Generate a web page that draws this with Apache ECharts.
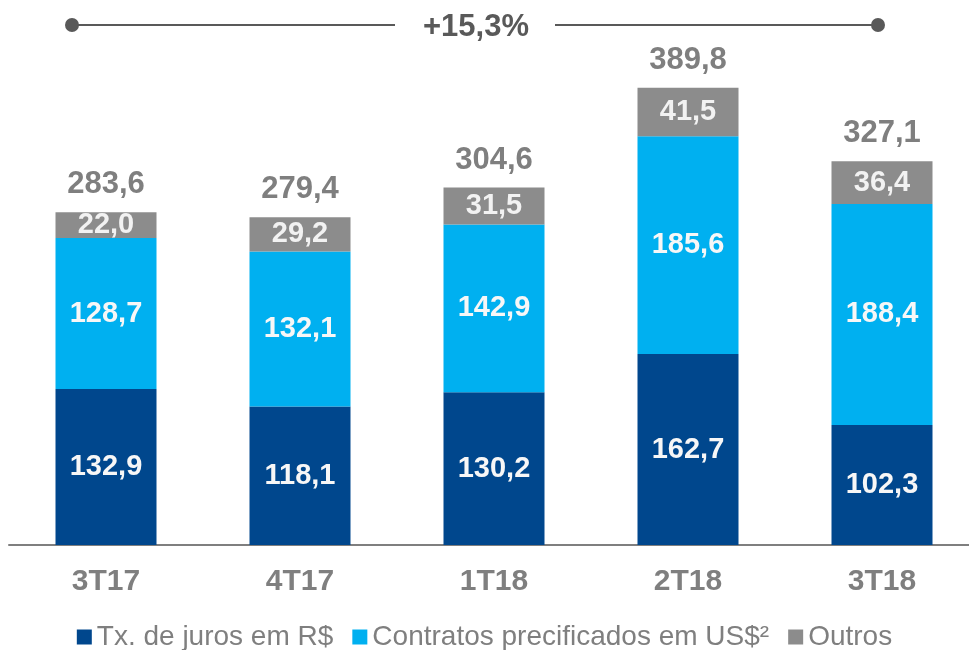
<!DOCTYPE html>
<html>
<head>
<meta charset="utf-8">
<script src="https://cdn.jsdelivr.net/npm/echarts@6/dist/echarts.min.js"></script>
<style>
  html, body { margin: 0; padding: 0; background: #fff; }
  #chart { width: 969px; height: 650px; }
</style>
</head>
<body>
<div id="chart"></div>
<script>
const categories = ['3T17', '4T17', '1T18', '2T18', '3T18']
const jurosRS = [132.9, 118.1, 130.2, 162.7, 102.3]
const contratosUS = [128.7, 132.1, 142.9, 185.6, 188.4]
const outros = [22.0, 29.2, 31.5, 41.5, 36.4]
const totals = [283.6, 279.4, 304.6, 389.8, 327.1]
const growthLabel = '+15,3%'

const fmt = v => v.toFixed(1).replace('.', ',')
const font = 'Liberation Sans, Arial, sans-serif'

const chart = echarts.init(document.getElementById('chart'))
const insideLabel = (color) => ({
  show: true,
  position: 'inside',
  color: color,
  fontFamily: font,
  fontWeight: 'bold',
  fontSize: 29,
  formatter: p => fmt(p.value)
})

const option = {
  animation: false,
  grid: { left: 9, width: 970, top: 17, bottom: 105, outerBoundsMode: 'none' },
  legend: {
    data: ['Tx. de juros em R$', 'Contratos precificados em US$²', 'Outros'],
    top: 623,
    left: 'center',
    padding: 0,
    icon: 'rect',
    itemWidth: 15,
    itemHeight: 15,
    itemGap: 19,
    textStyle: { color: '#7f7f7f', fontSize: 28, fontFamily: font }
  },
  xAxis: {
    type: 'category',
    data: categories,
    axisTick: { show: false },
    axisLine: { lineStyle: { color: '#7f7f7f', width: 2 } },
    axisLabel: { color: '#7f7f7f', fontSize: 30, fontWeight: 'bold', fontFamily: font, margin: 22 }
  },
  yAxis: { type: 'value', min: 0, max: 450, show: false },
  series: [
    {
      name: 'Tx. de juros em R$', type: 'bar', stack: 'a', data: jurosRS,
      barWidth: 101, itemStyle: { color: '#00478d' }, label: insideLabel('#f7f7f7')
    },
    {
      name: 'Contratos precificados em US$²', type: 'bar', stack: 'a', data: contratosUS,
      itemStyle: { color: '#00b0f0' }, label: insideLabel('#f7f7f7')
    },
    {
      name: 'Outros', type: 'bar', stack: 'a', data: outros,
      itemStyle: { color: '#8c8c8c' }, label: insideLabel('#f2f2f2')
    },
    {
      name: 'Total', type: 'bar', stack: 'a', data: totals.map(() => 0),
      itemStyle: { color: 'transparent' },
      label: {
        show: true, position: 'top', distance: 12,
        color: '#7f7f7f', fontFamily: font, fontWeight: 'bold', fontSize: 31,
        formatter: p => fmt(totals[p.dataIndex])
      }
    }
  ],
  graphic: [
    { type: 'line', shape: { x1: 72, y1: 25, x2: 395, y2: 25 }, style: { stroke: '#595959', lineWidth: 2 } },
    { type: 'line', shape: { x1: 555, y1: 25, x2: 878, y2: 25 }, style: { stroke: '#595959', lineWidth: 2 } },
    { type: 'circle', shape: { cx: 72, cy: 25, r: 7 }, style: { fill: '#595959' } },
    { type: 'circle', shape: { cx: 878, cy: 25, r: 7 }, style: { fill: '#595959' } },
    {
      type: 'text', x: 476, y: 27,
      style: { text: growthLabel, fill: '#595959', font: 'bold 31px ' + font, textAlign: 'center', textVerticalAlign: 'middle' }
    }
  ]
}

chart.setOption(option)
window.addEventListener('resize', () => {
  chart.resize()
})
</script>
</body>
</html>
